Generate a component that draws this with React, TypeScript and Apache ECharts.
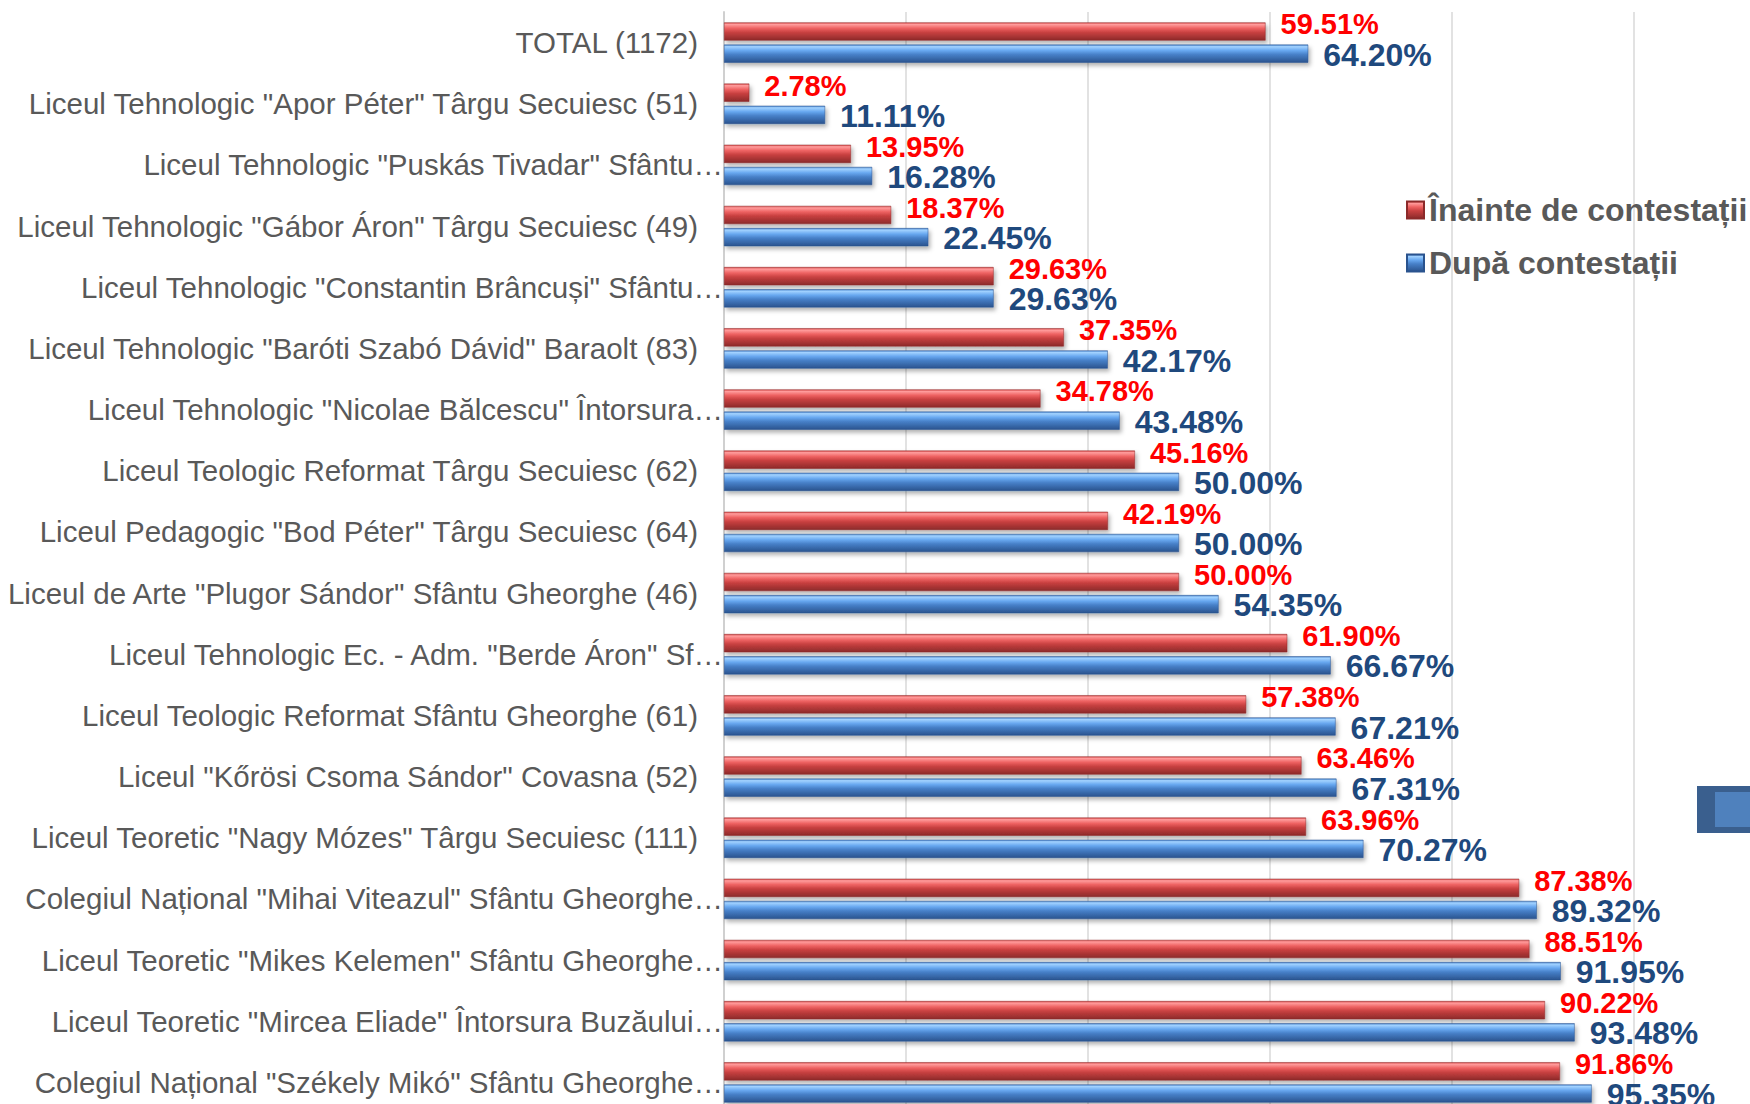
import React, { useEffect, useRef } from "react";
import * as echarts from "echarts";

const categories: string[] = [
  "TOTAL (1172)",
  'Liceul Tehnologic "Apor Péter" Târgu Secuiesc (51)',
  'Liceul Tehnologic "Puskás Tivadar" Sfântu…',
  'Liceul Tehnologic "Gábor Áron" Târgu Secuiesc (49)',
  'Liceul Tehnologic "Constantin Brâncuși" Sfântu…',
  'Liceul Tehnologic "Baróti Szabó Dávid" Baraolt (83)',
  'Liceul Tehnologic "Nicolae Bălcescu" Întorsura…',
  "Liceul Teologic Reformat Târgu Secuiesc (62)",
  'Liceul Pedagogic "Bod Péter" Târgu Secuiesc (64)',
  'Liceul de Arte "Plugor Sándor" Sfântu Gheorghe (46)',
  'Liceul Tehnologic Ec. - Adm. "Berde Áron" Sf…',
  "Liceul Teologic Reformat Sfântu Gheorghe (61)",
  'Liceul "Kőrösi Csoma Sándor" Covasna (52)',
  'Liceul Teoretic "Nagy Mózes" Târgu Secuiesc (111)',
  'Colegiul Național "Mihai Viteazul" Sfântu Gheorghe…',
  'Liceul Teoretic "Mikes Kelemen" Sfântu Gheorghe…',
  'Liceul Teoretic "Mircea Eliade" Întorsura Buzăului…',
  'Colegiul Național "Székely Mikó" Sfântu Gheorghe…',
];

const seriesNames: string[] = ["Înainte de contestații", "După contestații"];

const beforeValues: number[] = [
  59.51, 2.78, 13.95, 18.37, 29.63, 37.35, 34.78, 45.16, 42.19, 50.0, 61.9,
  57.38, 63.46, 63.96, 87.38, 88.51, 90.22, 91.86,
];

const afterValues: number[] = [
  64.2, 11.11, 16.28, 22.45, 29.63, 42.17, 43.48, 50.0, 50.0, 54.35, 66.67,
  67.21, 67.31, 70.27, 89.32, 91.95, 93.48, 95.35,
];

const FONT = 'Arial, "Liberation Sans", sans-serif';

const redGradient = new echarts.graphic.LinearGradient(0, 0, 0, 1, [
  { offset: 0, color: "#D84A4A" },
  { offset: 0.1, color: "#FF9C9C" },
  { offset: 0.32, color: "#EE6262" },
  { offset: 0.55, color: "#C84040" },
  { offset: 1, color: "#8C2A2A" },
]);

const blueGradient = new echarts.graphic.LinearGradient(0, 0, 0, 1, [
  { offset: 0, color: "#4A85CC" },
  { offset: 0.1, color: "#A2D2FF" },
  { offset: 0.32, color: "#68A8F0" },
  { offset: 0.55, color: "#4780C8" },
  { offset: 1, color: "#2A538E" },
]);

export default function App() {
  const ref = useRef<HTMLDivElement>(null);

  useEffect(() => {
    if (!ref.current) return;
    const chart = echarts.init(ref.current, undefined, { renderer: "svg" });
    const labelStyle = {
      fontSize: 29.5,
      fontFamily: FONT,
      color: "#595959",
    };
    chart.setOption({
      animation: false,
      backgroundColor: "#FFFFFF",
      grid: {
        left: 724,
        width: 910,
        top: 12,
        height: 1101,
        containLabel: false,
      },
      legend: {
        data: seriesNames,
        orient: "vertical",
        left: 1401,
        top: 189,
        itemWidth: 17,
        itemHeight: 17,
        itemGap: 21,
        icon: "rect",
        textStyle: {
          fontSize: 32,
          fontWeight: "bold",
          fontFamily: FONT,
          color: "#595959",
        },
      },
      xAxis: {
        type: "value",
        min: 0,
        max: 100,
        interval: 20,
        axisLabel: { show: false },
        axisLine: { show: false },
        axisTick: { show: false },
        splitLine: { show: true, lineStyle: { color: "#D9D9D9", width: 1.5 } },
      },
      yAxis: {
        type: "category",
        data: categories,
        inverse: true,
        axisTick: { show: false },
        axisLine: { show: true, lineStyle: { color: "#D0D0D0", width: 2 } },
        axisLabel: {
          margin: 1,
          formatter: (v: string) =>
            v.endsWith("…") ? `{t|${v}}` : `{p|${v}}`,
          rich: {
            t: { ...labelStyle },
            p: { ...labelStyle, padding: [0, 25, 0, 0] },
          },
        },
      },
      series: [
        {
          name: seriesNames[0],
          type: "bar",
          data: beforeValues,
          barGap: "22%",
          barCategoryGap: "34%",
          itemStyle: {
            color: redGradient,
            borderColor: "#8C2A2A",
            borderWidth: 0.5,
            shadowBlur: 4,
            shadowColor: "rgba(0,0,0,0.3)",
            shadowOffsetX: 2,
            shadowOffsetY: 3,
          },
          label: {
            show: true,
            position: "right",
            distance: 15,
            offset: [0, -7],
            formatter: (p: any) => p.value.toFixed(2) + "%",
            fontSize: 29,
            fontWeight: "bold",
            fontFamily: FONT,
            color: "#FF0000",
          },
        },
        {
          name: seriesNames[1],
          type: "bar",
          data: afterValues,
          barGap: "22%",
          barCategoryGap: "34%",
          itemStyle: {
            color: blueGradient,
            borderColor: "#2A538E",
            borderWidth: 0.5,
            shadowBlur: 4,
            shadowColor: "rgba(0,0,0,0.3)",
            shadowOffsetX: 2,
            shadowOffsetY: 3,
          },
          label: {
            show: true,
            position: "right",
            distance: 15,
            offset: [0, 1],
            formatter: (p: any) => p.value.toFixed(2) + "%",
            fontSize: 32,
            fontWeight: "bold",
            fontFamily: FONT,
            color: "#1F497D",
          },
        },
      ],
      graphic: [
        {
          type: "rect",
          shape: { x: 1697, y: 786, width: 60, height: 47 },
          style: { fill: "#3A5F8E" },
        },
        {
          type: "rect",
          shape: { x: 1715, y: 792, width: 40, height: 35 },
          style: { fill: "#4F81BD" },
        },
      ],
    });
    return () => chart.dispose();
  }, []);

  return (
    <div
      style={{
        position: "fixed",
        left: 0,
        top: 0,
        width: 1750,
        height: 1104,
        overflow: "hidden",
        background: "#FFFFFF",
      }}
    >
      <div ref={ref} style={{ width: 1750, height: 1130 }} />
    </div>
  );
}
